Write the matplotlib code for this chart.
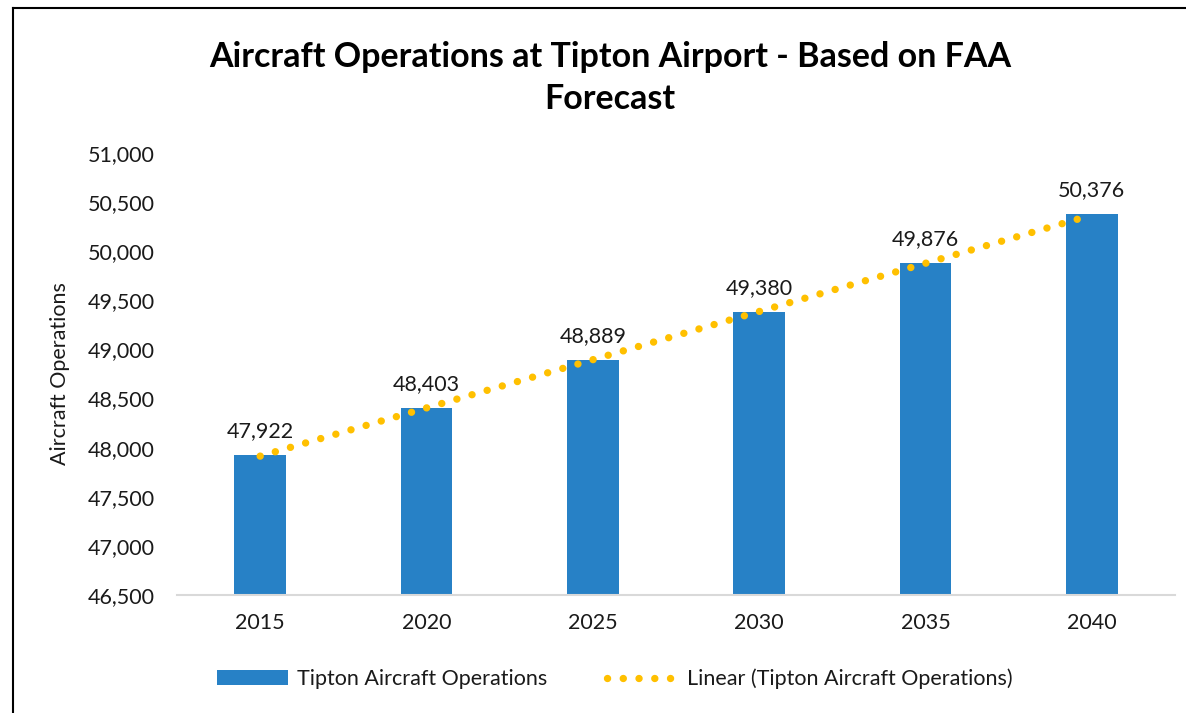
import matplotlib.pyplot as plt
from matplotlib.lines import Line2D
from matplotlib.patches import Patch
from matplotlib.ticker import FuncFormatter
import numpy as np

# Chart data
years = ['2015', '2020', '2025', '2030', '2035', '2040']
operations = [47922, 48403, 48889, 49380, 49876, 50376]
y_ticks = [46500, 47000, 47500, 48000, 48500, 49000, 49500, 50000, 50500, 51000]

bar_color = '#2781C6'
trend_color = '#FFC000'
text_color = '#1a1a1a'
font = 'Lato'
fs = 15.5

plt.rcParams['font.family'] = [font, 'DejaVu Sans']

fig = plt.figure(figsize=(11.86, 7.13), dpi=100)
ax = fig.add_axes([177 / 1186, 1 - 595 / 713, 998 / 1186, 442 / 713])

x = np.arange(len(years))
bars = ax.bar(x, operations, width=0.31, color=bar_color, zorder=2)

# Linear trendline (least squares fit of the series)
slope, intercept = np.polyfit(x, operations, 1)
trend = slope * x + intercept
dot_style = (0, (0.01, 2.13))
ax.plot(x, trend, color=trend_color, linewidth=5.3, linestyle=dot_style,
        dash_capstyle='round', zorder=3)

# Value labels above bars
for bar, val in zip(bars, operations):
    ax.annotate(f'{val:,}', (bar.get_x() + bar.get_width() / 2, val),
                xytext=(0, 13), textcoords='offset points',
                ha='center', va='baseline', fontsize=fs, color=text_color)

ax.set_xlim(-0.5, len(years) - 0.5)
ax.set_ylim(46500, 51000)
ax.set_xticks(x)
ax.set_xticklabels(years)
ax.set_yticks(y_ticks)
ax.yaxis.set_major_formatter(FuncFormatter(lambda v, p: f'{int(v):,}'))
ax.tick_params(axis='both', length=0, labelsize=fs, colors=text_color)
ax.tick_params(axis='y', pad=16)
ax.tick_params(axis='x', pad=13)
ax.set_ylabel('Aircraft Operations', fontsize=fs, color=text_color, labelpad=13)

for side in ['top', 'right', 'left']:
    ax.spines[side].set_visible(False)
ax.spines['bottom'].set_color('#D9D9D9')
ax.spines['bottom'].set_linewidth(1.5)

# Title
fig.text(610 / 1186, 1 - 78 / 713,
         'Aircraft Operations at Tipton Airport - Based on FAA\nForecast',
         ha='center', va='center', fontsize=24.5, fontweight='bold',
         linespacing=1.35, color='black')

# Legend
handles = [
    Patch(facecolor=bar_color, label='Tipton Aircraft Operations'),
    Line2D([0], [0], color=trend_color, linewidth=5.3, linestyle=dot_style,
           dash_capstyle='round', label='Linear (Tipton Aircraft Operations)'),
]
fig.legend(handles=handles, loc='center', bbox_to_anchor=(615 / 1186, 1 - 679 / 713),
           ncol=2, frameon=False, fontsize=fs, handlelength=3.3,
           handletextpad=0.4, columnspacing=2.8, labelcolor=text_color)

# Outer chart border (left and top edges visible)
fig.add_artist(Line2D([13 / 1186, 13 / 1186], [0, 1 - 8 / 713], color='black',
                      linewidth=1.5, transform=fig.transFigure))
fig.add_artist(Line2D([13 / 1186, 1], [1 - 8 / 713, 1 - 8 / 713], color='black',
                      linewidth=1.5, transform=fig.transFigure))

fig.savefig('out.png', dpi=100)
